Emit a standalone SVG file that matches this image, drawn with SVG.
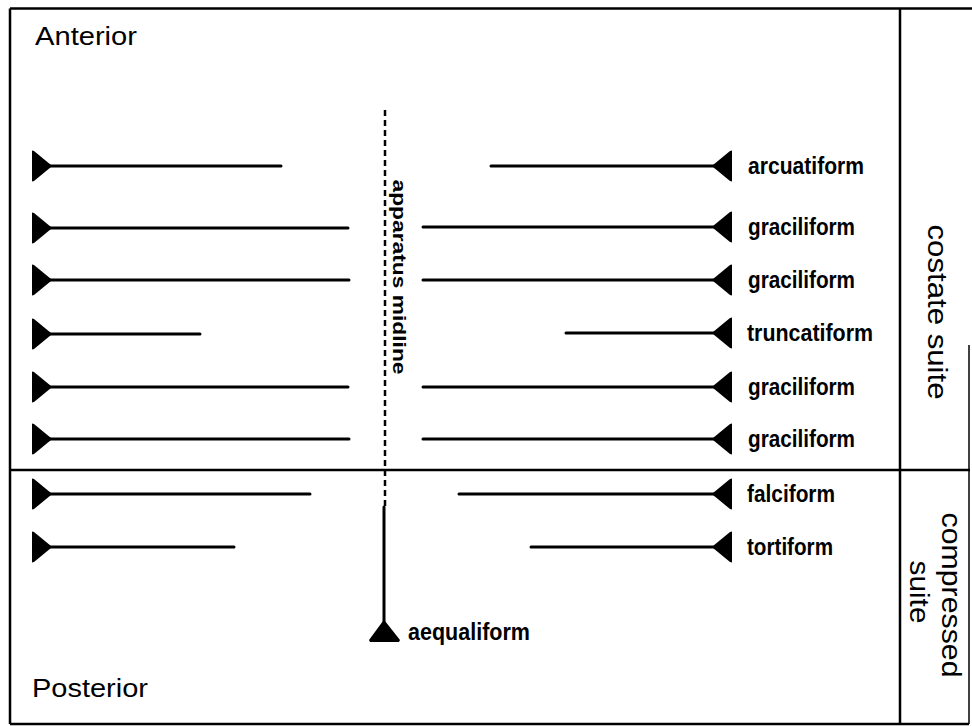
<svg xmlns="http://www.w3.org/2000/svg" width="972" height="726" viewBox="0 0 972 726">
<style>
.frame{stroke:#000;stroke-width:2.5;fill:none}
.ln{stroke:#000;stroke-width:3;stroke-linecap:round;fill:none}
.lbl{font-family:"Liberation Sans",Arial,sans-serif;font-weight:bold;font-size:23px;fill:#000}
.big{font-family:"Liberation Sans",Arial,sans-serif;font-size:25px;fill:#000}
.side{font-family:"Liberation Sans",Arial,sans-serif;font-size:27px;fill:#000}
</style>
<defs>
<path id="hl" d="M32,-15.5 L34,-15 L51,-1 L51,1 L34,15 L32,15.5 Z" fill="#000"/>
<path id="hr" d="M732,-15.5 L730,-15 L713,-1 L713,1 L730,15 L732,15.5 Z" fill="#000"/>
</defs>
<rect width="972" height="726" fill="#fff"/>
<g id="frame">
<line class="frame" x1="10" y1="8.5" x2="972" y2="8.5"/>
<line class="frame" x1="10" y1="8.5" x2="10" y2="724"/>
<line class="frame" x1="10" y1="724" x2="969" y2="724"/>
<line class="frame" x1="900" y1="8.5" x2="900" y2="724"/>
<line class="frame" x1="969" y1="345" x2="969" y2="724" style="stroke-width:1.5"/>
<line class="frame" x1="10" y1="470" x2="970" y2="470"/>
</g>
<g id="texts">
<text class="big" x="35" y="45" textLength="102" lengthAdjust="spacingAndGlyphs">Anterior</text>
<text class="big" x="32" y="697" textLength="116" lengthAdjust="spacingAndGlyphs">Posterior</text>
<text class="side" transform="translate(928,312) rotate(90)" text-anchor="middle" textLength="175" lengthAdjust="spacingAndGlyphs">costate suite</text>
<text class="side" transform="translate(942,595) rotate(90)" text-anchor="middle" textLength="165" lengthAdjust="spacingAndGlyphs">compressed</text>
<text class="side" transform="translate(910,592) rotate(90)" text-anchor="middle" textLength="63" lengthAdjust="spacingAndGlyphs">suite</text>
</g>
<g id="connectors">
<line x1="385" y1="110" x2="385" y2="507" stroke="#000" stroke-width="2.5" stroke-dasharray="6 4"/>
<line class="ln" x1="384" y1="507" x2="384" y2="626"/>
</g>
<g id="midline-label">
<text class="lbl" transform="translate(393,277) rotate(90)" text-anchor="middle" style="font-size:19px" textLength="195" lengthAdjust="spacingAndGlyphs">apparatus midline</text>
</g>
<g id="left-elements">
<g id="L1"><use href="#hl" y="166"/><line class="ln" x1="45" y1="166" x2="281" y2="166"/></g>
<g id="L2"><use href="#hl" y="228"/><line class="ln" x1="45" y1="228" x2="348" y2="228"/></g>
<g id="L3"><use href="#hl" y="280"/><line class="ln" x1="45" y1="280" x2="349" y2="280"/></g>
<g id="L4"><use href="#hl" y="334"/><line class="ln" x1="45" y1="334" x2="200" y2="334"/></g>
<g id="L5"><use href="#hl" y="387"/><line class="ln" x1="45" y1="387" x2="348" y2="387"/></g>
<g id="L6"><use href="#hl" y="439"/><line class="ln" x1="45" y1="439" x2="349" y2="439"/></g>
<g id="L7"><use href="#hl" y="494"/><line class="ln" x1="45" y1="494" x2="310" y2="494"/></g>
<g id="L8"><use href="#hl" y="547"/><line class="ln" x1="45" y1="547" x2="234" y2="547"/></g>
</g>
<g id="arcuatiform"><use href="#hr" y="166"/><line class="ln" x1="491" y1="166" x2="719" y2="166"/><text class="lbl" x="748" y="174" textLength="116" lengthAdjust="spacingAndGlyphs">arcuatiform</text></g>
<g id="graciliform1"><use href="#hr" y="227"/><line class="ln" x1="423" y1="227" x2="719" y2="227"/><text class="lbl" x="748" y="235" textLength="107" lengthAdjust="spacingAndGlyphs">graciliform</text></g>
<g id="graciliform2"><use href="#hr" y="280"/><line class="ln" x1="423" y1="280" x2="719" y2="280"/><text class="lbl" x="748" y="288" textLength="107" lengthAdjust="spacingAndGlyphs">graciliform</text></g>
<g id="truncatiform"><use href="#hr" y="333"/><line class="ln" x1="566" y1="333" x2="719" y2="333"/><text class="lbl" x="747" y="341" textLength="126" lengthAdjust="spacingAndGlyphs">truncatiform</text></g>
<g id="graciliform3"><use href="#hr" y="387"/><line class="ln" x1="423" y1="387" x2="719" y2="387"/><text class="lbl" x="748" y="395" textLength="107" lengthAdjust="spacingAndGlyphs">graciliform</text></g>
<g id="graciliform4"><use href="#hr" y="439"/><line class="ln" x1="423" y1="439" x2="719" y2="439"/><text class="lbl" x="748" y="447" textLength="107" lengthAdjust="spacingAndGlyphs">graciliform</text></g>
<g id="falciform"><use href="#hr" y="494"/><line class="ln" x1="459" y1="494" x2="719" y2="494"/><text class="lbl" x="747" y="502" textLength="88" lengthAdjust="spacingAndGlyphs">falciform</text></g>
<g id="tortiform"><use href="#hr" y="547"/><line class="ln" x1="531" y1="547" x2="719" y2="547"/><text class="lbl" x="747" y="555" textLength="86" lengthAdjust="spacingAndGlyphs">tortiform</text></g>
<g id="aequaliform"><path d="M383,621 L385,621 L400,640 L399,642 L370,642 L369,640 Z" fill="#000"/><text class="lbl" x="408" y="640" textLength="122" lengthAdjust="spacingAndGlyphs">aequaliform</text></g>
</svg>
